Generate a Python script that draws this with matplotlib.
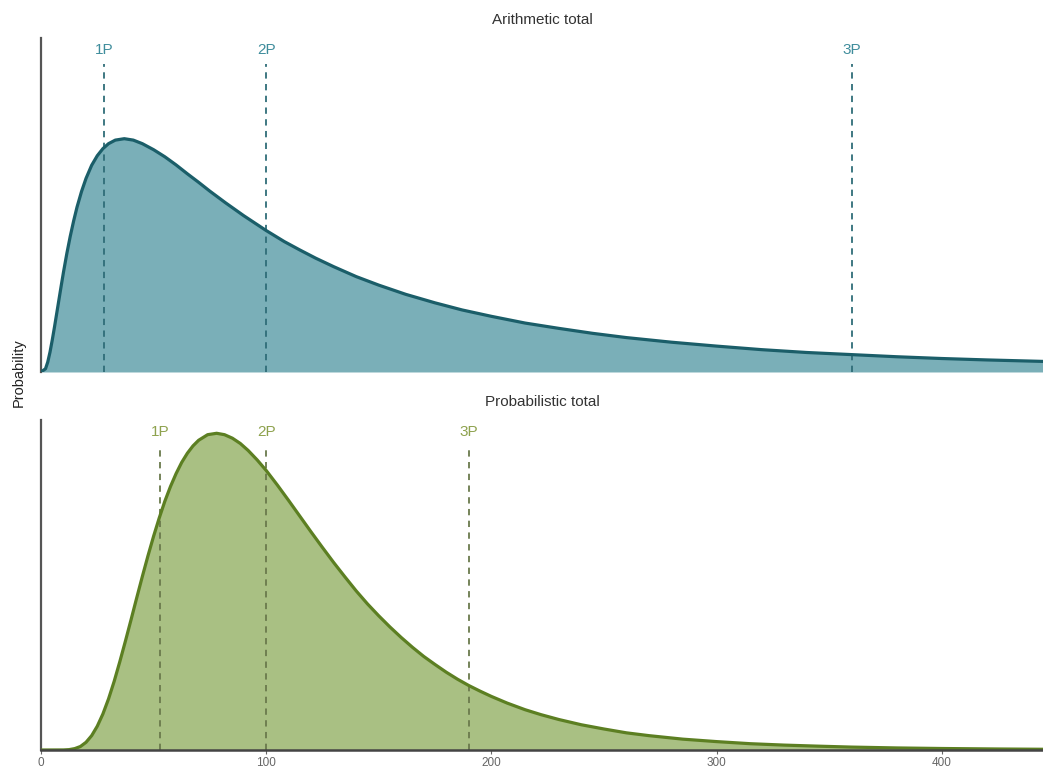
import matplotlib.pyplot as plt

plt.rcParams["font.family"] = ["Liberation Sans", "DejaVu Sans"]

# probability density (x 1e-3)
arith_x = [0, 2, 3, 4, 5, 6, 7, 8, 9, 10, 11.5, 13, 14.5, 16, 18, 20, 22.5, 25,
           27.5, 30, 33, 37, 41, 45, 50, 55, 60, 65, 70, 75, 82, 90, 100, 108,
           115, 122, 130, 140, 150, 162, 175, 187, 200, 215, 230, 245, 260, 280,
           300, 320, 340, 360, 380, 400, 420, 450]
arith_y = [0.0, 0.09, 0.28, 0.56, 0.90, 1.27, 1.66, 2.05, 2.44, 2.82, 3.35, 3.83,
           4.26, 4.65, 5.09, 5.46, 5.83, 6.10, 6.30, 6.44, 6.54, 6.58, 6.54, 6.44,
           6.27, 6.07, 5.84, 5.59, 5.35, 5.10, 4.77, 4.41, 3.99, 3.68, 3.44, 3.21,
           2.97, 2.69, 2.45, 2.19, 1.95, 1.75, 1.57, 1.38, 1.23, 1.09, 0.97, 0.84,
           0.73, 0.63, 0.55, 0.49, 0.43, 0.38, 0.34, 0.29]

prob_x = [0, 10, 12.5, 15, 17.5, 20, 22.5, 25, 27.5, 30, 32.5, 35, 37.5, 40, 42.5,
          45, 47.5, 50, 52.5, 55, 57.5, 60, 62.5, 65, 67.5, 70, 74, 78, 81.5, 85,
          88.5, 92, 96, 100, 105, 110, 115, 120, 125, 130, 135, 140, 145, 150, 155,
          160, 165, 170, 175, 180, 185, 190, 195, 200, 207, 215, 222, 230, 240,
          250, 260, 270, 285, 300, 315, 330, 345, 360, 380, 400, 425, 450]
prob_y = [0.0, 0.002, 0.011, 0.04, 0.10, 0.22, 0.41, 0.68, 1.03, 1.46, 1.96, 2.52,
          3.11, 3.72, 4.34, 4.95, 5.54, 6.10, 6.62, 7.10, 7.52, 7.89, 8.21, 8.47,
          8.68, 8.84, 9.00, 9.04, 9.00, 8.90, 8.75, 8.55, 8.28, 7.98, 7.56, 7.12,
          6.67, 6.22, 5.78, 5.35, 4.94, 4.54, 4.17, 3.83, 3.51, 3.21, 2.93, 2.67,
          2.44, 2.22, 2.02, 1.84, 1.68, 1.53, 1.34, 1.15, 1.01, 0.87, 0.72, 0.60,
          0.49, 0.41, 0.31, 0.24, 0.18, 0.14, 0.11, 0.083, 0.059, 0.043, 0.029,
          0.019]

p_labels = ["1P", "2P", "3P"]
arith_p = [28, 100, 360]
prob_p = [53, 100, 190]

xticks = [0, 100, 200, 300, 400]

panels = [
    ("Arithmetic total", arith_x, arith_y, arith_p,
     "#7aafb8", "#1b5e69", "#2f6d78", "#3f8d9c"),
    ("Probabilistic total", prob_x, prob_y, prob_p,
     "#a9c083", "#5c7f22", "#6a7a4c", "#8ea24e"),
]

fig = plt.figure(figsize=(10.43, 7.74), dpi=100)
ax_top = fig.add_axes([0.0393, 0.5194, 0.9607, 0.4315])
ax_bot = fig.add_axes([0.0393, 0.0310, 0.9607, 0.4264])

for ax, (title, xs, ys, ps, fill_c, line_c, dash_c, text_c) in zip([ax_top, ax_bot], panels):
    ax.fill_between(xs, ys, 0, color=fill_c, lw=0, zorder=1)
    ax.plot(xs, ys, color=line_c, lw=2.3, zorder=3, solid_joinstyle="round")
    for lab, px in zip(p_labels, ps):
        ax.plot([px, px], [0, 0.922], transform=ax.get_xaxis_transform(),
                color=dash_c, lw=1.3, dashes=(3.5, 3), zorder=2)
        ax.text(px, 0.965, lab, transform=ax.get_xaxis_transform(), ha="center",
                va="center", color=text_c, fontsize=11)
    ax.set_xlim(0, 445)
    ax.set_ylim(0, 9.42)
    ax.set_yticks([])
    for s in ["top", "right"]:
        ax.spines[s].set_visible(False)
    ax.spines["left"].set_color("#555555")
    ax.spines["left"].set_linewidth(1.6)
    ax.set_title(title, fontsize=11, color="#333333", pad=10)

ax_top.spines["bottom"].set_visible(False)
ax_top.set_xticks([])

ax_bot.spines["bottom"].set_color("#444444")
ax_bot.spines["bottom"].set_linewidth(1.8)
ax_bot.spines["bottom"].set_zorder(4)
ax_bot.set_xticks(xticks)
ax_bot.tick_params(axis="x", length=3, width=0.8, colors="#666666", labelsize=8.5, pad=2)

fig.text(0.018, 0.519, "Probability", rotation=90, ha="center", va="center",
         fontsize=10.5, color="#222222")

fig.savefig("out.png", dpi=100, facecolor="white")
